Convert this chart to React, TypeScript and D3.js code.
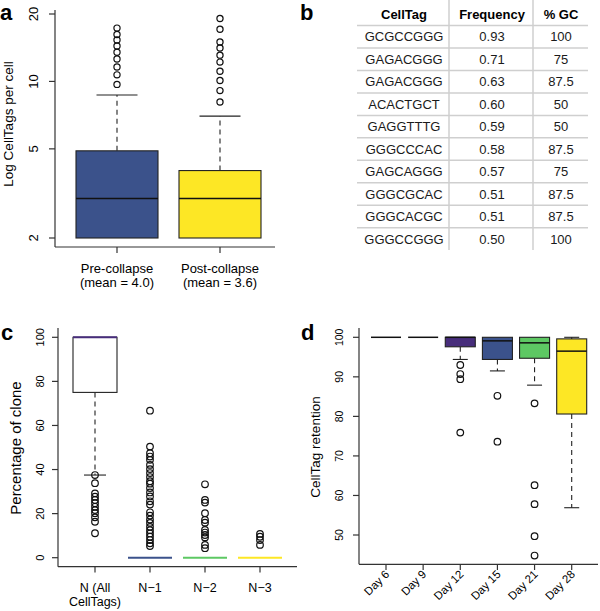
import React from 'react';
import * as d3 from 'd3';

const FONT = "'Liberation Sans', Arial, Helvetica, sans-serif";
const AXIS = '#333333';

// ---------- Panel a ----------
const aCategories = ['Pre-collapse', 'Post-collapse'];
const aMeans = ['(mean = 4.0)', '(mean = 3.6)'];
const aQ1 = [2, 2];
const aMedian = [3, 3];
const aQ3 = [4.9, 4.0];
const aWhiskerLow = [2, 2];
const aWhiskerHigh = [8.7, 7.0];
const aOutliers = [
  [9.7, 10.7, 11.6, 12.6, 13.5, 14.4, 15.3, 16.2, 17.3],
  [8.1, 9.1, 10.1, 11.1, 12.2, 13.1, 14.1, 15.0, 17.1, 19.1],
];
const aColors = ['#3B528B', '#FDE725'];
const aTicks = [2, 5, 10, 20];

// ---------- Panel b ----------
const bHeaders = ['CellTag', 'Frequency', '% GC'];
const bTags = ['GCGCCGGG', 'GAGACGGG', 'GAGACGGG', 'ACACTGCT', 'GAGGTTTG', 'GGGCCCAC', 'GAGCAGGG', 'GGGCGCAC', 'GGGCACGC', 'GGGCCGGG'];
const bFreq = ['0.93', '0.71', '0.63', '0.60', '0.59', '0.58', '0.57', '0.51', '0.51', '0.50'];
const bGC = ['100', '75', '87.5', '50', '50', '87.5', '75', '87.5', '87.5', '100'];

// ---------- Panel c ----------
const cCategories = [['N (All', 'CellTags)'], ['N\u22121'], ['N\u22122'], ['N\u22123']];
const cQ1 = [75, 0, 0, 0];
const cMedian = [100, 0, 0, 0];
const cQ3 = [100, 0, 0, 0];
const cWhiskerLow = [37.5, 0, 0, 0];
const cWhiskerHigh = [100, 0, 0, 0];
const cOutliers = [
  [37.5, 33.8, 29.2, 27.7, 26.2, 24.7, 23.1, 21.6, 20.2, 18.3, 16.3, 11.1],
  [66.7, 50.4, 47.4, 45.9, 44.4, 42.1, 40.2, 38.4, 36.6, 34.7, 33.6, 31.6, 29.6, 27.8, 25.6, 24.1, 20.6, 19.1, 17.3, 15.8, 14.0, 12.5, 11.0, 9.5, 8.0, 6.5, 5.3],
  [33.3, 26.2, 25.0, 20.2, 17.1, 15.9, 12.6, 11.4, 10.3, 9.2, 5.8, 4.3],
  [10.8, 9.5, 8.0, 5.8],
];
const cMedianColors = ['#472D7B', '#3B528B', '#5DC863', '#FDE725'];
const cTicks = [0, 20, 40, 60, 80, 100];

// ---------- Panel d ----------
const dCategories = ['Day 6', 'Day 9', 'Day 12', 'Day 15', 'Day 21', 'Day 28'];
const dQ1 = [100, 100, 97.6, 94.4, 94.7, 80.6];
const dMedian = [100, 100, 100, 99.1, 98.6, 96.5];
const dQ3 = [100, 100, 100, 100, 100, 99.6];
const dWhiskerLow = [100, 100, 94.4, 91.5, 87.9, 56.9];
const dWhiskerHigh = [100, 100, 100, 100, 100, 100];
const dOutliers = [[], [], [93.0, 90.7, 89.4, 75.9], [85.2, 73.6], [83.3, 62.6, 57.8, 49.7, 44.8], []];
const dColors = ['#FFFFFF', '#FFFFFF', '#472D7B', '#3B528B', '#5DC863', '#FDE725'];
const dTicks = [50, 60, 70, 80, 90, 100];

type BoxProps = {
  cx: number; w: number; y: (v: number) => number;
  q1: number; med: number; q3: number; lo: number; hi: number;
  out: number[]; fill: string; medColor: string; medW: number; r: number;
};

function Box({ cx, w, y, q1, med, q3, lo, hi, out, fill, medColor, medW, r }: BoxProps) {
  const capW = w / 2;
  return (
    <g>
      {hi > q3 && (
        <g>
          <line x1={cx} x2={cx} y1={y(q3)} y2={y(hi)} stroke="#222" strokeWidth={1.1} strokeDasharray="5,4" />
          <line x1={cx - capW / 2} x2={cx + capW / 2} y1={y(hi)} y2={y(hi)} stroke="#222" strokeWidth={1.1} />
        </g>
      )}
      {lo < q1 && (
        <g>
          <line x1={cx} x2={cx} y1={y(q1)} y2={y(lo)} stroke="#222" strokeWidth={1.1} strokeDasharray="5,4" />
          <line x1={cx - capW / 2} x2={cx + capW / 2} y1={y(lo)} y2={y(lo)} stroke="#222" strokeWidth={1.1} />
        </g>
      )}
      {q3 > q1 && (
        <rect x={cx - w / 2} y={y(q3)} width={w} height={y(q1) - y(q3)} fill={fill} stroke="#222" strokeWidth={1.1} />
      )}
      <line x1={cx - w / 2} x2={cx + w / 2} y1={y(med)} y2={y(med)} stroke={medColor} strokeWidth={medW} />
      {out.map((v, i) => (
        <circle key={i} cx={cx} cy={y(v)} r={r} fill="none" stroke="#111" strokeWidth={1.2} />
      ))}
    </g>
  );
}

function PanelA() {
  const y = d3.scaleLog().domain([2, 20]).range([238, 14]);
  const x = d3.scaleLinear().domain([0, 1]).range([117, 220]);
  return (
    <g>
      <text x={0} y={20} fontSize={22} fontWeight="bold" fontFamily={FONT}>a</text>
      <line x1={55} x2={55} y1={10} y2={247} stroke={AXIS} strokeWidth={1.2} />
      <line x1={55} x2={275} y1={247} y2={247} stroke={AXIS} strokeWidth={1.2} />
      {aTicks.map((t) => (
        <g key={t}>
          <line x1={49} x2={55} y1={y(t)} y2={y(t)} stroke={AXIS} strokeWidth={1.2} />
          <text transform={`translate(37.5,${y(t)}) rotate(-90)`} textAnchor="middle" fontSize={13} fontFamily={FONT}>{t}</text>
        </g>
      ))}
      <text transform="translate(12.5,124) rotate(-90)" textAnchor="middle" fontSize={13.5} fontFamily={FONT}>Log CellTags per cell</text>
      {aCategories.map((c, i) => (
        <g key={c}>
          <line x1={x(i)} x2={x(i)} y1={247} y2={253} stroke={AXIS} strokeWidth={1.2} />
          <text x={x(i)} y={272.5} textAnchor="middle" fontSize={13} fontFamily={FONT}>{c}</text>
          <text x={x(i)} y={287} textAnchor="middle" fontSize={13} fontFamily={FONT}>{aMeans[i]}</text>
          <Box cx={x(i)} w={82} y={y} q1={aQ1[i]} med={aMedian[i]} q3={aQ3[i]} lo={aWhiskerLow[i]} hi={aWhiskerHigh[i]}
            out={aOutliers[i]} fill={aColors[i]} medColor="#111" medW={1.5} r={3.1} />
        </g>
      ))}
    </g>
  );
}

function PanelB() {
  const rowY = d3.scaleLinear().domain([0, 1]).range([36.7, 59.18]);
  const colX = [404, 492, 561];
  return (
    <g fontFamily={FONT} fontSize={13} fill="#1a1a1a">
      <text x={300} y={20} fontSize={22} fontWeight="bold" fill="#000">b</text>
      <line x1={449} x2={449} y1={0} y2={250} stroke="#cfcfcf" strokeWidth={1.5} />
      <line x1={533} x2={533} y1={0} y2={250} stroke="#cfcfcf" strokeWidth={1.5} />
      {bHeaders.map((h, j) => (
        <text key={h} x={colX[j]} y={18.7} textAnchor="middle" fontWeight="bold" fill="#000">{h}</text>
      ))}
      {bTags.map((t, i) => (
        <g key={i}>
          <line x1={357} x2={588} y1={rowY(i) - 11.24} y2={rowY(i) - 11.24} stroke="#cfcfcf" strokeWidth={1.5} />
          <text x={colX[0]} y={rowY(i) + 4.7} textAnchor="middle">{t}</text>
          <text x={colX[1]} y={rowY(i) + 4.7} textAnchor="middle">{bFreq[i]}</text>
          <text x={colX[2]} y={rowY(i) + 4.7} textAnchor="middle">{bGC[i]}</text>
        </g>
      ))}
    </g>
  );
}

function PanelC() {
  const y = d3.scaleLinear().domain([0, 100]).range([557.7, 337.3]);
  const x = d3.scaleLinear().domain([0, 3]).range([95, 260]);
  return (
    <g>
      <text x={1} y={339.5} fontSize={22} fontWeight="bold" fontFamily={FONT}>c</text>
      <line x1={58} x2={58} y1={328} y2={566.7} stroke={AXIS} strokeWidth={1.2} />
      <line x1={58} x2={297} y1={566.7} y2={566.7} stroke={AXIS} strokeWidth={1.2} />
      {cTicks.map((t) => (
        <g key={t}>
          <line x1={52} x2={58} y1={y(t)} y2={y(t)} stroke={AXIS} strokeWidth={1.2} />
          <text transform={`translate(43.5,${y(t)}) rotate(-90)`} textAnchor="middle" fontSize={11} fontFamily={FONT}>{t}</text>
        </g>
      ))}
      <text transform="translate(20.7,448) rotate(-90)" textAnchor="middle" fontSize={15} fontFamily={FONT}>Percentage of clone</text>
      {cCategories.map((c, i) => (
        <g key={i}>
          <line x1={x(i)} x2={x(i)} y1={566.7} y2={572.5} stroke={AXIS} strokeWidth={1.2} />
          {c.map((line, k) => (
            <text key={k} x={x(i)} y={591.5 + k * 14.5} textAnchor="middle" fontSize={12.5} fontFamily={FONT}>{line}</text>
          ))}
          <Box cx={x(i)} w={44} y={y} q1={cQ1[i]} med={cMedian[i]} q3={cQ3[i]} lo={cWhiskerLow[i]} hi={cWhiskerHigh[i]}
            out={cOutliers[i]} fill="#FFFFFF" medColor={cMedianColors[i]} medW={2} r={3.3} />
        </g>
      ))}
    </g>
  );
}

function PanelD() {
  const y = d3.scaleLinear().domain([50, 100]).range([535, 337.3]);
  const x = d3.scaleLinear().domain([0, 5]).range([386, 571.7]);
  return (
    <g>
      <text x={301} y={340} fontSize={22} fontWeight="bold" fontFamily={FONT}>d</text>
      <line x1={359} x2={359} y1={328} y2={564.3} stroke={AXIS} strokeWidth={1.2} />
      <line x1={359} x2={598} y1={564.3} y2={564.3} stroke={AXIS} strokeWidth={1.2} />
      {dTicks.map((t) => (
        <g key={t}>
          <line x1={353} x2={359} y1={y(t)} y2={y(t)} stroke={AXIS} strokeWidth={1.2} />
          <text transform={`translate(343,${y(t)}) rotate(-90)`} textAnchor="middle" fontSize={10.5} fontFamily={FONT}>{t}</text>
        </g>
      ))}
      <text transform="translate(319.7,447) rotate(-90)" textAnchor="middle" fontSize={13.5} fontFamily={FONT}>CellTag retention</text>
      {dCategories.map((c, i) => (
        <g key={c}>
          <line x1={x(i)} x2={x(i)} y1={564.3} y2={570} stroke={AXIS} strokeWidth={1.2} />
          <text transform={`translate(${x(i) + 4},${575}) rotate(-45)`} textAnchor="end" fontSize={11.5} fontFamily={FONT}>{c}</text>
          <Box cx={x(i)} w={30} y={y} q1={dQ1[i]} med={dMedian[i]} q3={dQ3[i]} lo={dWhiskerLow[i]} hi={dWhiskerHigh[i]}
            out={dOutliers[i]} fill={dColors[i]} medColor="#111" medW={1.5} r={3.3} />
        </g>
      ))}
    </g>
  );
}

export default function App() {
  return (
    <svg width={600} height={611} style={{ position: 'absolute', left: 0, top: 0, background: '#fff' }}>
      <rect width={600} height={611} fill="#fff" />
      <PanelA />
      <PanelB />
      <PanelC />
      <PanelD />
    </svg>
  );
}
